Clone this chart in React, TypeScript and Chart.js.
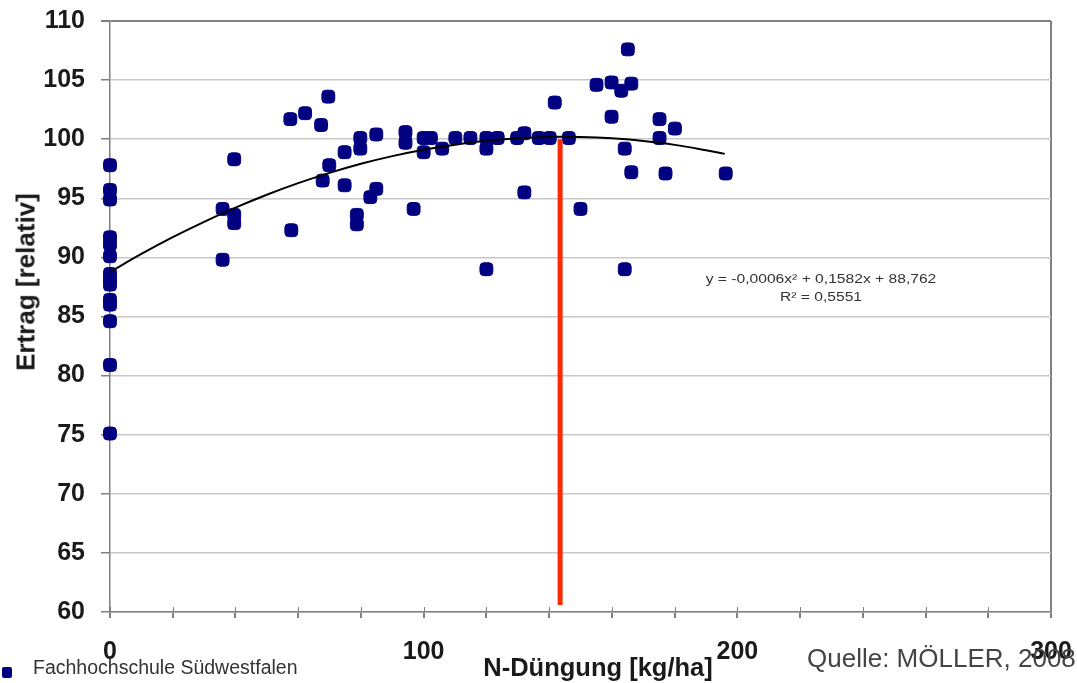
import React, { useEffect, useRef } from "react";
import { Chart, registerables } from "chart.js";

Chart.register(...registerables);

// Measured points: N-Düngung [kg/ha] and Ertrag [relativ]
const nFert: number[] = [
  0, 0, 0, 0, 0, 0, 0, 0, 0, 0, 0, 0, 0, 0,
  35.9, 35.9, 39.6, 39.6, 39.6, 57.5, 57.8, 62.2, 67.3, 67.8, 69.6, 69.9,
  74.8, 74.8, 78.7, 78.7, 79.8, 79.8, 83.0, 84.9, 84.9, 94.2, 94.2, 96.8,
  100, 100, 102.3, 105.9, 110.1, 114.9, 120, 120, 120, 123.6, 129.8,
  132.1, 132.1, 136.7, 140.2, 141.8, 146.3, 150, 155.1, 159.9, 159.9, 163,
  164.1, 164.1, 165.1, 166.2, 166.2, 175.2, 175.2, 177.1, 180.1, 196.3,
];
const yieldRel: number[] = [
  97.8, 95.7, 94.9, 91.7, 91.1, 90.1, 88.6, 88.1, 87.7, 86.4, 86.0, 84.6, 80.9, 75.1,
  94.1, 89.8, 98.3, 93.6, 92.9, 101.7, 92.3, 102.2, 101.2, 96.5, 103.6, 97.8,
  98.9, 96.1, 93.6, 92.8, 100.1, 99.2, 95.1, 100.4, 95.8, 100.6, 99.7, 94.1,
  100.1, 98.9, 100.1, 99.2, 100.1, 100.1, 100.1, 99.2, 89.0, 100.1, 100.1,
  100.5, 95.5, 100.1, 100.1, 103.1, 100.1, 94.1, 104.6, 104.8, 101.9, 104.1,
  99.2, 89.0, 107.6, 104.7, 97.2, 101.7, 100.1, 97.1, 100.9, 97.1,
];

// Trend line
const trendX: number[] = [0, 10, 20, 30, 40, 50, 60, 70, 80, 90, 100, 110, 120, 130, 140, 150, 160, 170, 180, 190, 196];
const trendY: number[] = [88.76, 90.29, 91.71, 93.01, 94.21, 95.3, 96.28, 97.15, 97.92, 98.57, 99.11, 99.54, 99.86, 100.09, 100.19, 100.18, 100.07, 99.84, 99.52, 99.07, 98.76];

// Red optimum marker line
const optimumX: number[] = [143.5, 143.5];
const optimumY: number[] = [100, 60.6];

const yTicks: number[] = [60, 65, 70, 75, 80, 85, 90, 95, 100, 105, 110];
const xLabelTicks: number[] = [0, 100, 200, 300];

const FONT = "'Liberation Sans', Arial, sans-serif";

export default function App() {
  const ref = useRef<HTMLCanvasElement | null>(null);

  useEffect(() => {
    if (!ref.current) return;
    const crossTicks = {
      id: "crossTicks",
      afterDraw(chart: any) {
        const ctx = chart.ctx;
        const xs = chart.scales.x;
        const area = chart.chartArea;
        ctx.save();
        ctx.strokeStyle = "#808080";
        ctx.lineWidth = 1;
        for (let v = 0; v <= 300; v += 20) {
          const px = Math.round(xs.getPixelForValue(v)) + 0.5;
          ctx.beginPath();
          ctx.moveTo(px, area.bottom - 5);
          ctx.lineTo(px, area.bottom);
          ctx.stroke();
        }
        ctx.restore();
      },
    };

    const chart = new Chart(ref.current, {
      type: "scatter",
      data: {
        datasets: [
          {
            label: "Optimum",
            data: optimumX.map((x, i) => ({ x, y: optimumY[i] })),
            showLine: true,
            borderColor: "#ff2a00",
            borderWidth: 5,
            pointRadius: 0,
            order: 0,
          },
          {
            label: "Trend",
            data: trendX.map((x, i) => ({ x, y: trendY[i] })),
            showLine: true,
            borderColor: "#000000",
            borderWidth: 2,
            pointRadius: 0,
            tension: 0.4,
            order: 1,
          },
          {
            label: "Fachhochschule Südwestfalen",
            data: nFert.map((x, i) => ({ x, y: yieldRel[i] })),
            backgroundColor: "#000080",
            borderColor: "#000080",
            pointStyle: "rectRounded",
            pointRadius: 7.5,
            pointHoverRadius: 7.5,
            clip: false,
            order: 2,
          },
        ],
      },
      options: {
        animation: false,
        responsive: true,
        maintainAspectRatio: false,
        layout: { padding: { top: 21, right: 26, left: 0, bottom: 0 } },
        plugins: {
          legend: { display: false },
          tooltip: { enabled: false },
        },
        scales: {
          x: {
            type: "linear",
            min: 0,
            max: 300,
            afterFit: (s: any) => {
              s.height = 71;
              s.paddingLeft = 0;
              s.paddingRight = 0;
            },
            ticks: {
              stepSize: 20,
              autoSkip: false,
              maxRotation: 0,
              padding: 19,
              color: "#1a1a1a",
              font: { family: FONT, size: 25, weight: "bold" },
              callback: (v: any) => (xLabelTicks.includes(Number(v)) ? String(v) : ""),
            },
            grid: {
              drawOnChartArea: true,
              color: (c: any) => (c.tick && c.tick.value === 300 ? "#808080" : "rgba(0,0,0,0)"),
              lineWidth: 2,
              tickColor: "#808080",
              tickLength: 6,
            },
            border: { color: "#808080", width: 1.5 },
          },
          y: {
            type: "linear",
            min: 60,
            max: 110,
            afterFit: (s: any) => {
              s.width = 110;
              s.paddingTop = 0;
              s.paddingBottom = 0;
            },
            afterBuildTicks: (s: any) => {
              s.ticks = yTicks.map((v) => ({ value: v }));
            },
            ticks: {
              padding: 16,
              color: "#1a1a1a",
              font: { family: FONT, size: 25, weight: "bold" },
            },
            grid: {
              color: (c: any) => (c.tick && c.tick.value === 110 ? "#808080" : "#c8c8c8"),
              tickColor: "#808080",
              tickLength: 9,
              lineWidth: (c: any) => (c.tick && c.tick.value === 110 ? 2 : 1.5),
            },
            border: { color: "#808080", width: 1.5 },
          },
        },
      },
      plugins: [crossTicks],
    });
    return () => chart.destroy();
  }, []);

  const abs = (s: React.CSSProperties): React.CSSProperties => ({
    position: "absolute",
    whiteSpace: "nowrap",
    fontFamily: FONT,
    ...s,
  });

  return (
    <div style={{ position: "fixed", left: 0, top: 0, width: 1077, height: 683, background: "#fff", overflow: "hidden" }}>
      <canvas ref={ref} />
      <div
        style={abs({
          left: 26,
          top: 282,
          transform: "translate(-50%, -50%) rotate(-90deg)",
          fontSize: 26,
          fontWeight: "bold",
          color: "#1a1a1a",
        })}
      >
        Ertrag [relativ]
      </div>
      <div
        style={abs({
          left: 821,
          top: 270,
          transform: "translateX(-50%) scaleX(1.25)",
          fontSize: 12.5,
          color: "#333",
          textAlign: "center",
          lineHeight: "18px",
        })}
      >
        y = -0,0006x² + 0,1582x + 88,762
        <br />
        R² = 0,5551
      </div>
      <div style={abs({ left: 2, top: 667, width: 10, height: 11, background: "#000080", borderRadius: 2 })} />
      <div style={abs({ left: 33, top: 656, fontSize: 19.5, color: "#333" })}>Fachhochschule Südwestfalen</div>
      <div style={abs({ left: 598, top: 653, transform: "translateX(-50%)", fontSize: 25.5, fontWeight: "bold", color: "#1a1a1a" })}>
        N-Düngung [kg/ha]
      </div>
      <div style={abs({ left: 807, top: 643, fontSize: 26, color: "#444" })}>Quelle: MÖLLER, 2008</div>
    </div>
  );
}
